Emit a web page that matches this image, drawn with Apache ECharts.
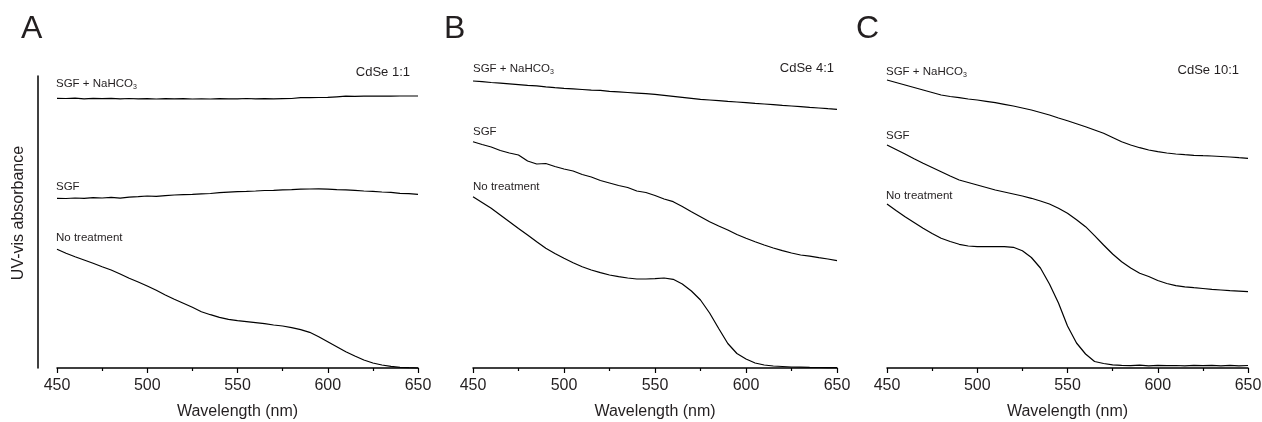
<!DOCTYPE html>
<html>
<head>
<meta charset="utf-8">
<script src="https://cdn.jsdelivr.net/npm/echarts@6/dist/echarts.min.js"></script>
<style>
html,body{margin:0;padding:0;background:#fff;}
#chart{width:1262px;height:422px;}
</style>
</head>
<body>
<div id="chart"></div>
<script>
// Wavelengths (nm)
var wavelengths = [450,455,460,465,470,475,480,485,490,495,500,505,510,515,520,525,530,535,540,545,550,555,560,565,570,575,580,585,590,595,600,605,610,615,620,625,630,635,640,645,650];
var xTicks = [450,500,550,600,650];

// Panel A: CdSe 1:1 (arbitrary absorbance units, curves stacked)
var aTop = [269.7,269.5,269.8,269.2,269.6,269.3,269.7,269.1,269.5,269.2,269.3,269.0,269.3,269.1,269.3,269.0,269.2,269.0,269.3,269.1,269.2,269.5,269.1,269.3,269.2,269.4,269.5,270.3,270.4,270.5,270.6,271.2,271.8,271.6,271.9,271.8,272,271.9,272,272,272];
var aSGF = [169.7,169.5,170,169.7,170.3,170,170.7,169.8,170.8,171.3,172,171.7,172.4,173,173.3,173.6,174.2,174.5,175.3,175.8,176.3,176.6,177,177.5,177.7,178.1,178.3,178.8,179,179.1,178.9,178.4,178.2,177.6,177,176.7,176,175.6,174.7,174.4,173.7];
var aNone = [118.7,114.7,111.3,108,104.7,101.3,98,94,89.7,86,82,77.7,73,68.7,64.7,60.7,56.3,53.3,50.7,48.7,47.3,46.3,45.3,44.3,43,42,40.3,38.3,35.7,31.3,26.3,21.3,16.3,12,8,5,3,1.7,0.7,0.3,0];

// Panel B: CdSe 4:1
var bTop = [287,286.3,285.5,284.8,284.1,283.4,282.6,282.2,281.2,280.4,279.7,279.1,278.5,277.9,277.6,276.7,276.1,275.5,274.9,274.3,273.7,272.7,271.7,270.7,269.7,268.7,268,267.3,266.6,266,265.3,264.6,264,263.3,262.6,262,261.3,260.6,260,259.3,258.7];
var bSGF = [226.3,223.5,221,217.5,215,213,207,204,204.5,201.5,199,197,193.5,191,187.5,185,182.5,180.5,177,175.5,172.5,169,166.3,161.5,156.3,151.3,146.3,142,138,133.5,129.7,126.3,123,120,117.3,115,113,111.8,110.3,109,107.3];
var bNone = [171.3,165.5,159.7,153,146.3,139.5,133,126.3,119.7,114.5,109.7,105.3,101.3,98,95.3,93,91.3,90,89,89,89.3,90,88.7,84,77,68,55,39.5,24.5,14.5,9,5,3,2,1.5,1,0.8,0.6,0.5,0.3,0.3];

// Panel C: CdSe 10:1
var cTop = [288,285.5,283,280.5,278,275.5,273,271.5,270.3,269,268,266.7,265.3,263.7,262,260,258,255.5,253,250,247.3,244.3,241.3,238,234.7,230.5,226.3,223,220.3,218,216.3,215,214,213.3,212.7,212.3,212,211.5,211,210.3,209.7];
var cSGF = [223,218.5,214,209.3,204.7,200.5,196.3,192,188,185.5,183,180.5,178,176,174,172,169.7,167,164,159.7,154.7,148.3,141.3,132.3,123,114,106.3,100,94.7,91.5,87.5,84.5,82.3,81.2,80.3,79.5,78.7,78,77.3,76.8,76.3];
var cNone = [164,157.5,151.3,145.5,139.7,134.5,129.7,126.5,123.7,122,121.3,121.3,121.3,121.3,120.7,117.3,110.5,100,84,65,42,25,14,6.5,4.5,3.2,2.7,2.3,2.8,2.2,2.7,2.3,2.5,2.2,2.6,2.3,2.7,2.2,2.6,2.2,2.5];

var panelLetters = ['A','B','C'];
var panelTitles = ['CdSe 1:1','CdSe 4:1','CdSe 10:1'];
var seriesNames = ['SGF + NaHCO3','SGF','No treatment'];
var panelData = [[aTop,aSGF,aNone],[bTop,bSGF,bNone],[cTop,cSGF,cNone]];

var FONT = 'Arial, "Liberation Sans", Helvetica, sans-serif';
var TXT = '#231f20';

var grids = [
  {left:57, top:76, width:361, height:292, outerBoundsMode:'none', containLabel:false},
  {left:473, top:76, width:364, height:292, outerBoundsMode:'none', containLabel:false},
  {left:887, top:76, width:361, height:292, outerBoundsMode:'none', containLabel:false}
];

function pairs(vals){
  var out = [];
  for (var i=0;i<wavelengths.length;i++) out.push([wavelengths[i], vals[i]]);
  return out;
}

var xAxes = [], yAxes = [], series = [];
for (var p=0;p<3;p++){
  xAxes.push({
    gridIndex:p, type:'value', min:450, max:650, interval:50,
    axisLine:{show:true, lineStyle:{color:'#000', width:1.5}},
    axisTick:{show:true, length:5, lineStyle:{color:'#000', width:1.2}},
    minorTick:{show:true, splitNumber:2, length:3, lineStyle:{color:'#000', width:1.2}},
    splitLine:{show:false}, minorSplitLine:{show:false},
    axisLabel:{fontSize:16, color:TXT, fontFamily:FONT, margin:10,
      formatter:function(v){ return xTicks.indexOf(v)>=0 ? String(v) : ''; }},
    name:'Wavelength (nm)', nameLocation:'middle', nameGap:36,
    nameTextStyle:{fontSize:16, color:TXT, fontFamily:FONT}
  });
  yAxes.push({
    gridIndex:p, type:'value', min:0, max:292,
    show: p===0, offset: p===0 ? 19 : 0,
    axisLine:{show:p===0, lineStyle:{color:'#000', width:1.5}},
    axisTick:{show:false}, axisLabel:{show:false}, splitLine:{show:false}
  });
  for (var s=0;s<3;s++){
    series.push({
      type:'line', name:seriesNames[s], xAxisIndex:p, yAxisIndex:p,
      data:pairs(panelData[p][s]), showSymbol:false, symbol:'none',
      lineStyle:{color:'#000', width:1.2}, silent:true, clip:false
    });
  }
}

var letterPos = [[21,29],[444,29],[856,29]];
var titlePos = [[410,72],[834,68],[1239,70]];
var labelX = [56,473,886];
var labelY = [[84,187,238],[69,132,187],[72,136,196]];

var graphics = [];
for (var p=0;p<3;p++){
  graphics.push({type:'text', x:letterPos[p][0], y:letterPos[p][1],
    style:{text:panelLetters[p], fontSize:32, fontFamily:FONT, fill:TXT, align:'left', verticalAlign:'middle'}});
  graphics.push({type:'text', x:titlePos[p][0], y:titlePos[p][1],
    style:{text:panelTitles[p], fontSize:13, fontFamily:FONT, fill:TXT, align:'right', verticalAlign:'middle'}});
  graphics.push({type:'text', x:labelX[p], y:labelY[p][0],
    style:{text:'{b|SGF + NaHCO}{s|3}', fontFamily:FONT, fill:TXT, align:'left', verticalAlign:'middle',
      rich:{b:{fontSize:11.5, fontFamily:FONT, fill:TXT, lineHeight:14},
            s:{fontSize:7, fontFamily:FONT, fill:TXT, padding:[7,0,0,0], lineHeight:14}}}});
  graphics.push({type:'text', x:labelX[p], y:labelY[p][1],
    style:{text:'SGF', fontSize:11.5, fontFamily:FONT, fill:TXT, align:'left', verticalAlign:'middle'}});
  graphics.push({type:'text', x:labelX[p], y:labelY[p][2],
    style:{text:'No treatment', fontSize:11.5, fontFamily:FONT, fill:TXT, align:'left', verticalAlign:'middle'}});
}
graphics.push({type:'text', x:18.5, y:213, rotation:Math.PI/2,
  style:{text:'UV-vis absorbance', fontSize:16, fontFamily:FONT, fill:TXT, align:'center', verticalAlign:'middle'}});

var chart = echarts.init(document.getElementById('chart'), null, {renderer:'canvas'});
chart.setOption({
  animation:false,
  backgroundColor:'#fff',
  grid:grids,
  xAxis:xAxes,
  yAxis:yAxes,
  series:series,
  graphic:graphics
});
</script>
</body>
</html>
